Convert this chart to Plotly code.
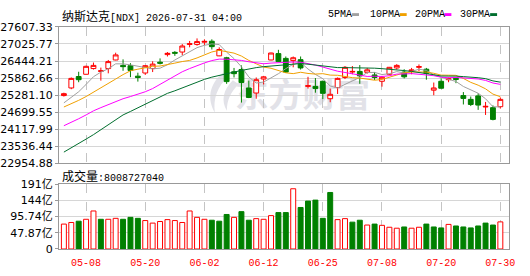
import base64
import plotly.graph_objects as go

# ---------------- data ----------------
dates = ["2026-05-05","2026-05-06","2026-05-07","2026-05-08","2026-05-11","2026-05-12","2026-05-13","2026-05-14","2026-05-15","2026-05-18",
         "2026-05-19","2026-05-20","2026-05-21","2026-05-22","2026-05-26","2026-05-27","2026-05-28","2026-05-29","2026-06-01","2026-06-02",
         "2026-06-03","2026-06-04","2026-06-05","2026-06-08","2026-06-09","2026-06-10","2026-06-11","2026-06-12","2026-06-15","2026-06-16",
         "2026-06-17","2026-06-18","2026-06-22","2026-06-23","2026-06-24","2026-06-25","2026-06-26","2026-06-29","2026-06-30","2026-07-01",
         "2026-07-02","2026-07-06","2026-07-07","2026-07-08","2026-07-09","2026-07-10","2026-07-13","2026-07-14","2026-07-15","2026-07-16",
         "2026-07-17","2026-07-20","2026-07-21","2026-07-22","2026-07-23","2026-07-24","2026-07-27","2026-07-28","2026-07-29","2026-07-30"]

open_ = [25265,25525,25916,25992,26187,26089,26187,26480,26295,26285,
         25927,26035,26187,26404,26664,26740,26751,27011,27011,27087,
         27120,26621,26556,26078,26154,25525,25352,25829,26480,26697,
         26534,26458,26491,25580,25580,25753,25157,25536,25883,26068,
         26089,26057,25970,25753,25992,26209,26068,26089,26230,26165,
         25449,25753,25807,25851,25265,25135,25254,24875,24853,24885]
high = [25363,25883,26078,26285,26393,26219,26480,26729,26501,26371,
        26046,26306,26436,26534,26751,26783,27022,27130,27217,27185,
        27185,26913,26588,26209,26295,25775,25883,25937,26729,26827,
        26599,26599,26599,25905,25862,25775,25504,25883,26274,26274,
        26306,26209,26068,25937,26241,26339,26165,26209,26328,26209,
        25710,25851,25883,25883,25384,25232,25341,25048,24929,25200]
low = [25232,25482,25721,25981,26154,25775,26024,26469,26111,25894,
       25742,25970,26068,26328,26599,26621,26642,26913,26968,26989,
       26838,26610,25666,25883,25026,25178,25157,25645,26469,26415,
       26035,26230,26154,25504,25363,25146,25037,25319,25829,25992,
       25666,26013,25796,25569,25959,26154,25851,25992,26100,25807,
       25276,25510,25721,25688,24961,24907,24777,24603,24419,24820]
close = [25330,25851,25807,26263,26295,26111,26425,26653,26252,26122,
         25883,26285,26339,26371,26707,26712,26957,27033,27109,27115,
         26935,26838,25742,26013,25710,25200,25807,25905,26718,26425,
         26068,26556,26209,25601,25504,25341,25308,25851,26230,26089,
         25937,26143,25883,25890,26230,26295,25905,26143,26252,26024,
         25525,25515,25840,25818,25167,24961,24940,24896,24452,25135]

ma5 = [25016,25211,25395,25645,25909,26065,26180,26349,26347,26313,
       26267,26239,26176,26200,26317,26480,26614,26753,26901,26981,
       27029,27005,26747,26527,26248,25901,25694,25727,25868,26011,
       26185,26334,26395,26172,25988,25842,25593,25521,25647,25764,
       25883,26050,26056,25983,26011,26083,26035,26087,26165,26124,
       25970,25894,25833,25746,25575,25462,25345,25156,24883,24877]
ma10 = [24875,24983,25102,25232,25374,25515,25666,25829,25981,26111,
        26166,26210,26263,26274,26315,26373,26427,26465,26550,26649,
        26754,26810,26750,26714,26614,26465,26350,26237,26198,26129,
        26043,26014,26061,26020,25999,26013,25964,25958,25909,25876,
        25863,25821,25789,25815,25887,25983,26043,26072,26074,26067,
        26026,25964,25960,25956,25849,25716,25620,25495,25315,25226]
ma20 = [24235,24343,24473,24604,24744,24853,24961,25059,25157,25232,
        25308,25395,25504,25645,25796,25937,26078,26187,26295,26380,
        26460,26510,26506,26494,26465,26419,26388,26351,26374,26389,
        26398,26412,26405,26367,26307,26239,26157,26097,26054,26003,
        25953,25918,25925,25917,25943,25998,26003,26015,25992,25972,
        25944,25893,25874,25885,25868,25849,25831,25783,25694,25647]
ma30 = [23335,23476,23627,23779,23931,24105,24278,24441,24604,24723,
        24842,24961,25081,25211,25341,25428,25525,25634,25731,25818,
        25894,25959,26013,26068,26122,26176,26219,26252,26274,26296,
        26321,26345,26358,26336,26309,26284,26247,26220,26219,26218,
        26220,26215,26200,26183,26167,26154,26119,26089,26060,26024,
        25977,25933,25937,25930,25912,25904,25875,25842,25766,25723]

volume_yi = [73.6,78.3,82.1,87.8,112.3,87.8,87.8,90.6,87.8,93.5,
             90.6,84.0,76.5,81.2,86.8,84.0,78.3,112.3,93.5,87.8,
             85.0,82.1,102.0,93.5,110.4,85.0,89.7,87.8,98.6,107.6,
             107.6,178.0,122.7,141.6,144.4,90.6,167.0,86.8,89.7,79.3,
             85.0,70.8,73.6,69.9,64.2,61.4,65.1,61.4,64.2,73.6,
             65.1,62.3,72.7,68.0,65.1,62.3,68.0,76.5,70.8,80.09]
last_volume = 8008727040

price_ticks = [22954.88, 23536.44, 24117.99, 24699.55, 25281.10, 25862.66, 26444.21, 27025.77, 27607.33]
vol_ticks = [0, 47.87, 95.74, 143.61, 191.48]
vol_tick_text = ["0", "47.87亿", "95.74亿", "144亿", "191亿"]
date_ticks = ["2026-05-08", "2026-05-20", "2026-06-02", "2026-06-12", "2026-06-25", "2026-07-08", "2026-07-20", "2026-07-30"]
ma_names = ["5PMA", "10PMA", "20PMA", "30PMA"]
title_cjk = "纳斯达克"
title_ascii = "[NDX] 2026-07-31 04:00"
vol_cjk = "成交量"

# ---------------- styles ----------------
W, H = 530, 276
RED = "#ff0000"
GREEN = "#008000"
MA_COLORS = ["#a0a0a0", "#f0a000", "#ff00ff", "#006e2e"]
GRID = "#d6d6d6"
VGRID = "#c4c4c4"
BORDER = "#999999"
CJK = "Noto Sans CJK SC"
MONO = "Liberation Mono"

P_TOP, P_BOT = 22, 165
V_TOP, V_BOT = 187, 255
L, R = 56, 509
xr = [-0.66, 60.17]


def px_x(x):
    return (x - L) / (R - L)


def px_y(y):
    return 1 - y / H


def mixed(cjk, ascii_txt):
    return (f'<span style="font-family:{CJK};font-size:12px">{cjk}</span>'
            f'<span style="font-family:{MONO};font-size:10px">{ascii_txt}</span>')


fig = go.Figure()

fig.add_trace(go.Candlestick(
    x=dates, open=open_, high=high, low=low, close=close,
    increasing=dict(line=dict(color=RED, width=1), fillcolor="#ffffff"),
    decreasing=dict(line=dict(color=GREEN, width=1), fillcolor=GREEN),
    whiskerwidth=0, hoverinfo="skip", xaxis="x", yaxis="y"))

for vals, col in zip([ma5, ma10, ma20, ma30], MA_COLORS):
    fig.add_trace(go.Scatter(x=dates, y=vals, mode="lines",
                             line=dict(color=col, width=1), hoverinfo="skip",
                             xaxis="x", yaxis="y"))

up = [True] + [close[i] >= close[i - 1] for i in range(1, len(close))]
fig.add_trace(go.Bar(
    x=dates, y=volume_yi,
    marker=dict(color=["#ffffff" if u else GREEN for u in up],
                line=dict(color=[RED if u else GREEN for u in up], width=1)),
    hoverinfo="skip", xaxis="x2", yaxis="y2"))

common_x = dict(type="category", range=xr, tickvals=date_ticks, showgrid=True,
                gridcolor=VGRID, griddash="dash", gridwidth=1, showline=True, mirror=True,
                linecolor=BORDER, linewidth=1, ticks="", zeroline=False, fixedrange=True)

fig.update_layout(
    width=W, height=H,
    margin=dict(l=L, r=W - R, t=0, b=0),
    paper_bgcolor="#ffffff", plot_bgcolor="rgba(0,0,0,0)",
    showlegend=False, bargap=0.33, boxgap=0.35, boxgroupgap=0,
    xaxis=dict(domain=[0, 1], anchor="y", showticklabels=False,
               rangeslider=dict(visible=False), **common_x),
    xaxis2=dict(domain=[0, 1], anchor="y2", showticklabels=True,
                ticktext=[d[5:] for d in date_ticks],
                tickfont=dict(family=MONO, size=10, color=RED),
                ticklabelstandoff=4, **common_x),
    yaxis=dict(domain=[px_y(P_BOT), px_y(P_TOP)], anchor="x",
               range=[price_ticks[0], price_ticks[-1]], tickvals=price_ticks,
               ticktext=[f"{v:.2f}" for v in price_ticks],
               showgrid=True, gridcolor=GRID, zeroline=False,
               ticks="outside", ticklen=3, tickcolor=BORDER,
               showline=True, mirror=True, linecolor=BORDER,
               tickfont=dict(family="DejaVu Sans", size=11, color="#000000"),
               fixedrange=True),
    yaxis2=dict(domain=[px_y(V_BOT), px_y(V_TOP)], anchor="x2",
                range=[vol_ticks[0], vol_ticks[-1]], tickvals=vol_ticks,
                ticktext=vol_tick_text,
                showgrid=True, gridcolor=GRID, zeroline=False,
                ticks="outside", ticklen=3, tickcolor=BORDER,
                showline=True, mirror=True, linecolor=BORDER,
                tickfont=dict(family=f"DejaVu Sans, {CJK}", size=11, color="#000000"),
                fixedrange=True),
)

annotations = [
    dict(text=mixed(title_cjk, title_ascii), x=px_x(57), y=px_y(10),
         xref="paper", yref="paper", xanchor="left", yanchor="middle",
         showarrow=False, font=dict(color="#000000")),
    dict(text=mixed(vol_cjk, f":{last_volume}"), x=px_x(57), y=px_y(178),
         xref="paper", yref="paper", xanchor="left", yanchor="middle",
         showarrow=False, font=dict(color="#000000")),
]
shapes = []
legend_x = [325, 367, 412, 458]
for name, col, lx in zip(ma_names, MA_COLORS, legend_x):
    annotations.append(dict(text=name, x=px_x(lx), y=px_y(9), xref="paper", yref="paper",
                            xanchor="left", yanchor="middle", showarrow=False,
                            font=dict(family=MONO, size=10, color="#000000")))
    rx = lx + len(name) * 6 + 2
    shapes.append(dict(type="rect", xref="paper", yref="paper",
                       x0=px_x(rx), x1=px_x(rx + 7), y0=px_y(10.5), y1=px_y(7.5),
                       fillcolor=col, line=dict(width=0)))

svg = ('<svg xmlns="http://www.w3.org/2000/svg" width="170" height="46" viewBox="0 0 170 46">'
       '<path d="M18 2 C4 14 2 30 10 44 C8 30 12 16 24 6 Z" fill="#e2e2e8"/>'
       '<path d="M28 10 C18 20 16 32 22 42 C22 30 26 22 34 14 Z" fill="#e2e2e8"/>'
       f'<text x="30" y="38" font-family="{CJK}" font-size="34" font-weight="700" fill="#e2e2e8">东方财富</text>'
       '</svg>')
src = "data:image/svg+xml;base64," + base64.b64encode(svg.encode("utf-8")).decode("ascii")

fig.update_layout(annotations=annotations, shapes=shapes,
                  images=[dict(source=src, xref="paper", yref="paper",
                               x=px_x(203), y=px_y(68),
                               sizex=170 / (R - L), sizey=46 / H, xanchor="left", yanchor="top",
                               sizing="stretch", layer="below")])

fig.write_html("out.html", config={"displayModeBar": False})
